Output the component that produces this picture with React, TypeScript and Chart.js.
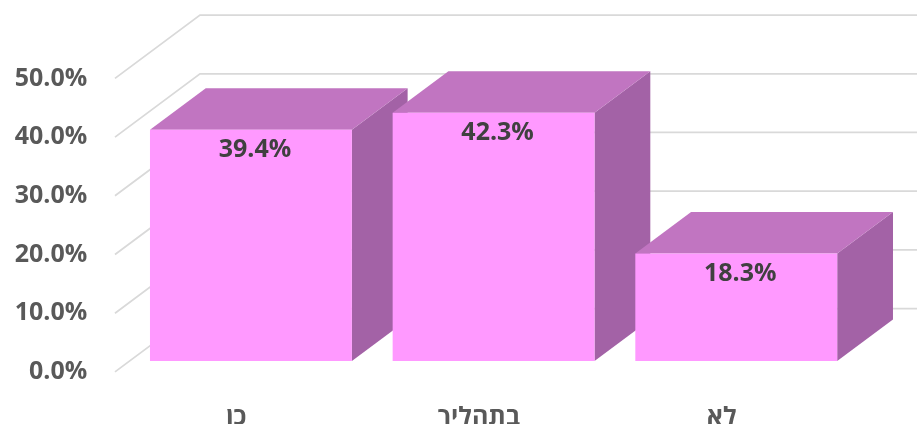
import { useEffect, useRef } from 'react';
import { Chart, registerables } from 'chart.js';

Chart.register(...registerables);

// ---- data ----
const categories = ['כן', 'בתהליך', 'לא'];
const values = [39.4, 42.3, 18.3];
const valueLabels = ['39.4%', '42.3%', '18.3%'];
const yTickLabels = ['0.0%', '10.0%', '20.0%', '30.0%', '40.0%', '50.0%'];
const yMin = 0;
const yMax = 50;
const yStep = 10;

// ---- style / geometry ----
const W = 917;
const H = 424;
const PLANE_LEFT = 129.6;
const PLANE_RIGHT = 857.6;
const PLANE_TOP = 67.5;
const PLANE_BOTTOM = 361;
const WALL_DX = 85;
const WALL_DY = 63.3;
const FRONT_FRAC = 0.172;
const BAR_FRAC = 0.656;
const FRONT_COLOR = '#FF99FF';
const TOP_COLOR = '#C175C1';
const SIDE_COLOR = '#A362A6';
const GRID_COLOR = '#D9D9D9';
const AXIS_TEXT = '#595959';
const LABEL_TEXT = '#404040';
const FONT_FAMILY = "'Open Sans', 'DejaVu Sans', sans-serif";
const FONT_SIZE = 25;

const threeD = {
  id: 'threeD',
  beforeDatasetsDraw(chart: any) {
    const ctx = chart.ctx;
    const area = chart.chartArea;
    const yScale = chart.scales.y;
    ctx.save();
    // walls / gridlines
    ctx.strokeStyle = GRID_COLOR;
    ctx.lineWidth = 1.75;
    yScale.ticks.forEach((t: any) => {
      const yb = yScale.getPixelForValue(t.value);
      const fx = area.left - WALL_DX * FRONT_FRAC;
      const fy = yb + WALL_DY * FRONT_FRAC;
      const bx = area.left + WALL_DX * (1 - FRONT_FRAC);
      const by = yb - WALL_DY * (1 - FRONT_FRAC);
      ctx.beginPath();
      ctx.moveTo(fx, fy);
      ctx.lineTo(bx, by);
      ctx.lineTo(chart.width, by);
      ctx.stroke();
    });
    // side + top faces
    const dx = WALL_DX * BAR_FRAC;
    const dy = WALL_DY * BAR_FRAC;
    const meta = chart.getDatasetMeta(0);
    meta.data.forEach((bar: any) => {
      const l = bar.x - bar.width / 2;
      const r = bar.x + bar.width / 2;
      const t = bar.y;
      const b = bar.base;
      ctx.fillStyle = SIDE_COLOR;
      ctx.beginPath();
      ctx.moveTo(r, t);
      ctx.lineTo(r + dx, t - dy);
      ctx.lineTo(r + dx, b - dy);
      ctx.lineTo(r, b);
      ctx.closePath();
      ctx.fill();
      ctx.fillStyle = TOP_COLOR;
      ctx.beginPath();
      ctx.moveTo(l, t);
      ctx.lineTo(r, t);
      ctx.lineTo(r + dx, t - dy);
      ctx.lineTo(l + dx, t - dy);
      ctx.closePath();
      ctx.fill();
    });
    ctx.restore();
  },
  afterDatasetsDraw(chart: any) {
    const ctx = chart.ctx;
    const meta = chart.getDatasetMeta(0);
    ctx.save();
    ctx.fillStyle = LABEL_TEXT;
    ctx.font = `bold ${FONT_SIZE}px ${FONT_FAMILY}`;
    ctx.textAlign = 'center';
    ctx.textBaseline = 'middle';
    meta.data.forEach((bar: any, i: number) => {
      ctx.fillText(valueLabels[i], bar.x + 4, bar.y + 20);
    });
    ctx.restore();
  },
};

export default function App() {
  const ref = useRef<HTMLCanvasElement>(null);
  useEffect(() => {
    if (!ref.current) return;
    const chart = new Chart(ref.current, {
      type: 'bar',
      data: {
        labels: categories,
        datasets: [
          {
            data: values,
            backgroundColor: FRONT_COLOR,
            borderWidth: 0,
            categoryPercentage: 1,
            barPercentage: 0.832,
          },
        ],
      },
      options: {
        animation: false,
        responsive: false,
        devicePixelRatio: 1,
        layout: { padding: { left: 0, right: W - PLANE_RIGHT, top: PLANE_TOP, bottom: 0 } },
        plugins: { legend: { display: false }, tooltip: { enabled: false } },
        scales: {
          x: {
            grid: { display: false, drawTicks: false },
            border: { display: false },
            ticks: {
              color: AXIS_TEXT,
              font: { family: FONT_FAMILY, size: FONT_SIZE, weight: 'bold' },
              labelOffset: -WALL_DX * FRONT_FRAC,
              padding: 42,
              maxRotation: 0,
            },
            afterFit: (s: any) => {
              s.height = H - PLANE_BOTTOM;
            },
          },
          y: {
            min: yMin,
            max: yMax,
            grid: { display: false, drawTicks: false },
            border: { display: false },
            ticks: {
              stepSize: yStep,
              color: AXIS_TEXT,
              font: { family: FONT_FAMILY, size: FONT_SIZE, weight: 'bold' },
              labelOffset: WALL_DY * FRONT_FRAC,
              padding: 42.3,
              callback: (_v: any, i: number) => yTickLabels[i],
            },
            afterFit: (s: any) => {
              s.width = PLANE_LEFT;
            },
          },
        },
      },
      plugins: [threeD],
    });
    return () => chart.destroy();
  }, []);
  return (
    <div style={{ position: 'absolute', left: 0, top: 0, width: W, height: H, background: '#fff' }}>
      <canvas ref={ref} width={W} height={H} style={{ display: 'block' }} />
    </div>
  );
}
